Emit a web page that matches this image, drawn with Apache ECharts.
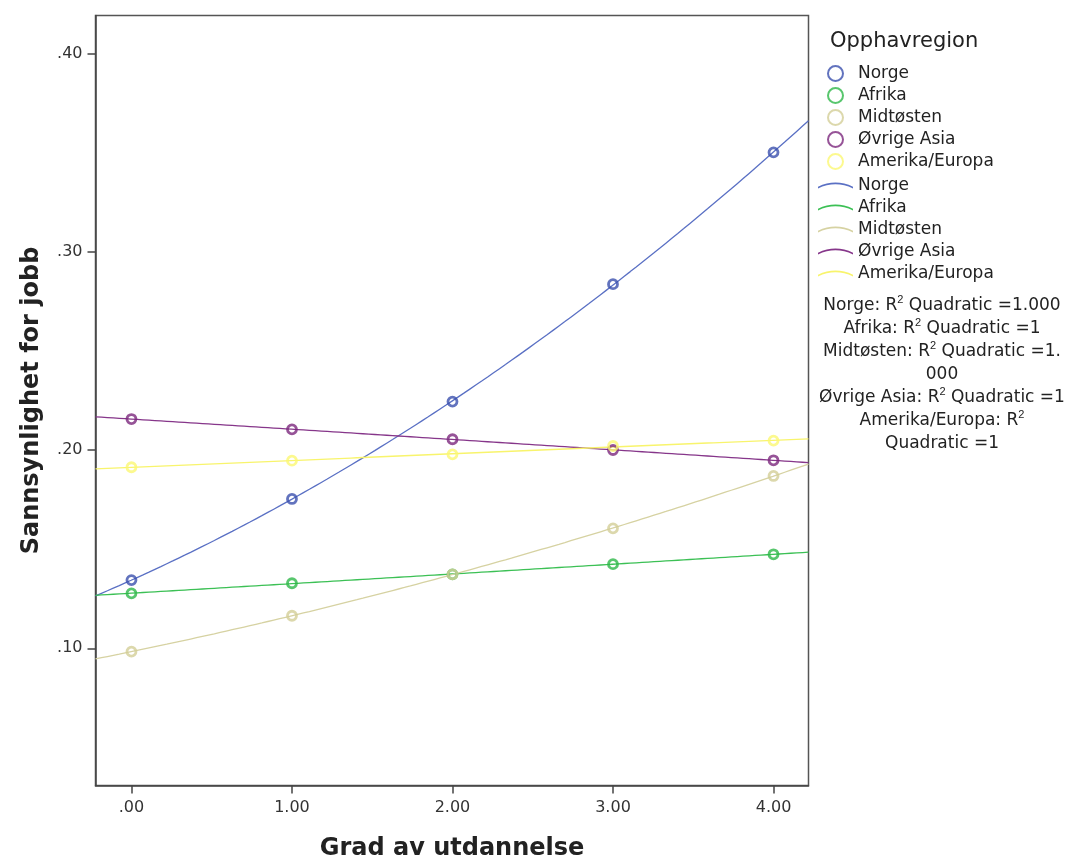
<!DOCTYPE html>
<html>
<head>
<meta charset="utf-8">
<script src="https://cdn.jsdelivr.net/npm/echarts@6/dist/echarts.min.js"></script>
<style>html,body{margin:0;padding:0;background:#fff}#c{width:1078px;height:861px}</style>
</head>
<body>
<div id="c"></div>
<script>
// ---- data ----
const xValues = [0, 1, 2, 3, 4];
const xTicks = [0, 1, 2, 3, 4];
const yTicks = [0.10, 0.20, 0.30, 0.40];
const regions = ['Norge', 'Afrika', 'Midtøsten', 'Øvrige Asia', 'Amerika/Europa'];
const norge = [0.1344, 0.1753, 0.2244, 0.2836, 0.3501];
const afrika = [0.1277, 0.1328, 0.1373, 0.1424, 0.1474];
const midtosten = [0.0983, 0.1164, 0.1373, 0.1605, 0.1869];
const ovrigeAsia = [0.2156, 0.2104, 0.2054, 0.2000, 0.1948];
const amerikaEuropa = [0.1913, 0.1946, 0.1978, 0.2020, 0.2047];
const rSquaredLines = [
  'Norge: R{s|2} Quadratic =1.000',
  'Afrika: R{s|2} Quadratic =1',
  'Midtøsten: R{s|2} Quadratic =1.',
  '000',
  'Øvrige Asia: R{s|2} Quadratic =1',
  'Amerika/Europa: R{s|2}',
  'Quadratic =1'
];
const markerColors = ['#3B50AE', '#2EB848', '#D3CE97', '#7C287D', '#FBF873'];
const lineColors = ['#5A70C4', '#3CC055', '#D6D2A2', '#86368A', '#F8F46C'];
const seriesValues = [norge, afrika, midtosten, ovrigeAsia, amerikaEuropa];

const X_MIN = -0.224, X_MAX = 4.218, Y_MIN = 0.0308, Y_MAX = 0.4191;

// quadratic least-squares fit (the chart's "Quadratic" fit lines)
function quadFit(xs, ys) {
  let n = xs.length, s = [0,0,0,0,0], t = [0,0,0];
  for (let i = 0; i < n; i++) {
    let p = 1;
    for (let k = 0; k < 5; k++) { s[k] += p; if (k < 3) t[k] += p * ys[i]; p *= xs[i]; }
  }
  const A = [[s[0], s[1], s[2], t[0]], [s[1], s[2], s[3], t[1]], [s[2], s[3], s[4], t[2]]];
  for (let c = 0; c < 3; c++) {
    for (let r = c + 1; r < 3; r++) {
      const f = A[r][c] / A[c][c];
      for (let k = c; k < 4; k++) A[r][k] -= f * A[c][k];
    }
  }
  const b = [0,0,0];
  for (let r = 2; r >= 0; r--) {
    let v = A[r][3];
    for (let k = r + 1; k < 3; k++) v -= A[r][k] * b[k];
    b[r] = v / A[r][r];
  }
  return b;
}
function fitCurve(ys) {
  const b = quadFit(xValues, ys);
  const pts = [];
  const N = 120;
  for (let i = 0; i <= N; i++) {
    const x = X_MIN + (X_MAX - X_MIN) * i / N;
    pts.push([x, b[0] + b[1] * x + b[2] * x * x]);
  }
  return pts;
}

const font = 'DejaVu Sans';
const arcIcon = 'path://M0,6 Q17,-2 34,6 L34,7.6 Q17,-0.4 0,7.6 Z';
const series = [];
regions.forEach((name, i) => {
  series.push({
    name: name + ' fit',
    type: 'line',
    symbol: 'none',
    showSymbol: false,
    lineStyle: { color: lineColors[i], width: 1.3 },
    itemStyle: { color: lineColors[i] },
    data: fitCurve(seriesValues[i]),
    z: 2
  });
});
regions.forEach((name, i) => {
  series.push({
    name: name,
    type: 'scatter',
    symbol: 'circle',
    symbolSize: 9,
    itemStyle: { color: 'rgba(255,255,255,0)', borderColor: markerColors[i], borderWidth: 2.8 },
    data: xValues.map((x, j) => [x, seriesValues[i][j]]),
    z: 3
  });
});

const chart = echarts.init(document.getElementById('c'));
chart.setOption({
  animation: false,
  backgroundColor: '#fff',
  textStyle: { fontFamily: font },
  grid: { left: 95.5, right: 269.5, top: 15.5, bottom: 75.5, show: true, borderColor: '#555', borderWidth: 1.5,
    containLabel: false, outerBoundsMode: 'none' },
  xAxis: {
    type: 'value', min: X_MIN, max: X_MAX,
    name: 'Grad av utdannelse', nameLocation: 'middle', nameGap: 51,
    nameTextStyle: { fontSize: 24, fontWeight: 'bold', color: '#222', fontFamily: font },
    axisLine: { show: true, onZero: false, lineStyle: { color: '#444', width: 1.5 } },
    axisTick: { show: true, length: 8, lineStyle: { color: '#444', width: 1.5 }, customValues: xTicks },
    axisLabel: { customValues: xTicks, margin: 14, fontSize: 16, color: '#333', fontFamily: font,
      formatter: v => v.toFixed(2).replace(/^0\./, '.') },
    splitLine: { show: false }
  },
  yAxis: {
    type: 'value', min: Y_MIN, max: Y_MAX,
    name: 'Sannsynlighet for jobb', nameLocation: 'middle', nameGap: 52, nameRotate: 90,
    nameTextStyle: { fontSize: 24, fontWeight: 'bold', color: '#222', fontFamily: font },
    axisLine: { show: true, onZero: false, lineStyle: { color: '#444', width: 1.5 } },
    axisTick: { show: true, length: 8, lineStyle: { color: '#444', width: 1.5 }, customValues: yTicks },
    axisLabel: { customValues: yTicks, margin: 13, fontSize: 16, color: '#333', fontFamily: font,
      formatter: v => v.toFixed(2).replace(/^0\./, '.') },
    splitLine: { show: false }
  },
  legend: [
    {
      orient: 'vertical', left: 822, top: 60,
      itemWidth: 15, itemHeight: 15, itemGap: 5,
      icon: 'circle',
      selectedMode: false,
      itemStyle: { borderWidth: 2 },
      textStyle: { fontSize: 17, lineHeight: 14, color: '#222', fontFamily: font, padding: [0, 0, 0, 10] },
      data: regions.map(n => ({ name: n }))
    },
    {
      orient: 'vertical', left: 813, top: 172,
      itemWidth: 35, itemHeight: 7, itemGap: 5,
      icon: arcIcon,
      selectedMode: false,
      itemStyle: { borderWidth: 0 },
      textStyle: { fontSize: 17, lineHeight: 14, color: '#222', fontFamily: font },
      formatter: n => n.replace(/ fit$/, ''),
      data: regions.map(n => ({ name: n + ' fit' }))
    }
  ],
  graphic: [
    {
      type: 'text', left: 830, top: 31,
      style: { text: 'Opphavregion', font: '21px "DejaVu Sans"', fill: '#222' }
    },
    {
      type: 'text', x: 942, y: 294,
      style: {
        text: rSquaredLines.join('\n'),
        font: '17px "DejaVu Sans"', fill: '#222',
        align: 'center', lineHeight: 23,
        rich: { s: { fontSize: 11, verticalAlign: 'top', lineHeight: 23, padding: [0, 0, 8, 0], fill: '#222' } }
      }
    }
  ],
  series: series
});
</script>
</body>
</html>
